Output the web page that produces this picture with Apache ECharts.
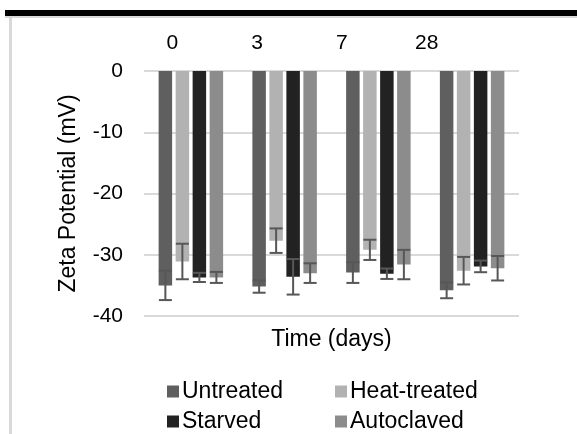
<!DOCTYPE html>
<html>
<head>
<meta charset="utf-8">
<script src="https://cdn.jsdelivr.net/npm/echarts@6/dist/echarts.min.js"></script>
<style>
html,body{margin:0;padding:0;background:#fff;}
#c{width:577px;height:434px;}
</style>
</head>
<body>
<div id="c"></div>
<script>
var categories = ['0', '3', '7', '28'];
var yTicks = [0, -10, -20, -30, -40];
var seriesNames = ['Untreated', 'Heat-treated', 'Starved', 'Autoclaved'];
var untreated = [-35.0, -35.2, -32.9, -35.8];
var untreatedErr = [2.4, 1.0, 1.7, 1.3];
var heatTreated = [-31.1, -27.7, -29.2, -32.6];
var heatTreatedErr = [2.9, 2.0, 1.65, 2.25];
var starved = [-33.7, -33.6, -33.1, -31.9];
var starvedErr = [0.75, 2.9, 0.85, 0.95];
var autoclaved = [-33.7, -33.0, -31.6, -32.2];
var autoclavedErr = [0.9, 1.6, 2.4, 2.0];

var values = [untreated, heatTreated, starved, autoclaved];
var errors = [untreatedErr, heatTreatedErr, starvedErr, autoclavedErr];
var colors = ['#5f5f5f', '#b2b2b2', '#222222', '#8c8c8c'];
var BAR_W = 13.5, BAR_GAP = 3.5;
var FONT = 'Liberation Sans, Arial, sans-serif';

var chart = echarts.init(document.getElementById('c'), null, {renderer: 'canvas'});

var series = [];
seriesNames.forEach(function (name, i) {
  series.push({
    name: name, type: 'bar', data: values[i],
    barWidth: BAR_W, barGap: (BAR_GAP / BAR_W * 100) + '%',
    itemStyle: {color: colors[i]}, xAxisIndex: 0, yAxisIndex: 0, z: 2
  });
});
seriesNames.forEach(function (name, i) {
  var data = values[i].map(function (v, k) { return [k, v - errors[i][k], v + errors[i][k]]; });
  var offset = -(4 * BAR_W + 3 * BAR_GAP) / 2 + BAR_W / 2 + i * (BAR_W + BAR_GAP);
  series.push({
    name: name + ' err', type: 'custom', xAxisIndex: 0, yAxisIndex: 0, z: 5,
    data: data,
    renderItem: function (params, api) {
      var lo = api.coord([api.value(0), api.value(1)]);
      var hi = api.coord([api.value(0), api.value(2)]);
      var x = lo[0] + offset;
      var hw = 6.5;
      var st = {stroke: '#575757', lineWidth: 2};
      return {type: 'group', children: [
        {type: 'line', shape: {x1: x, y1: lo[1], x2: x, y2: hi[1]}, style: st},
        {type: 'line', shape: {x1: x - hw, y1: lo[1], x2: x + hw, y2: lo[1]}, style: st},
        {type: 'line', shape: {x1: x - hw, y1: hi[1], x2: x + hw, y2: hi[1]}, style: st}
      ]};
    }
  });
});

function legendAt(name, left, top) {
  return {
    data: [name], left: left, top: top, padding: 0, orient: 'horizontal',
    icon: 'rect', itemWidth: 12, itemHeight: 12, itemGap: 0,
    textStyle: {fontFamily: FONT, fontSize: 23, color: '#000', padding: [0, 0, 0, -2]},
    selectedMode: false
  };
}

var option = {
  animation: false,
  backgroundColor: '#ffffff',
  textStyle: {fontFamily: FONT},
  graphic: [
    {type: 'rect', shape: {x: 5, y: 10, width: 572, height: 6}, style: {fill: '#000'}},
    {type: 'rect', shape: {x: 5, y: 16, width: 572, height: 2}, style: {fill: '#d9d9d9'}},
    {type: 'rect', shape: {x: 9, y: 16, width: 3, height: 418}, style: {fill: '#d9d9d9'}}
  ],
  grid: [
    {left: 144, right: 58, top: 71, bottom: 118},
    {left: 130, width: 339, top: 71, height: 10}
  ],
  xAxis: [
    {
      type: 'category', gridIndex: 0, data: categories, position: 'bottom',
      axisLine: {show: false}, axisTick: {show: false}, axisLabel: {show: false},
      name: 'Time (days)', nameLocation: 'middle', nameGap: 12,
      nameTextStyle: {fontFamily: FONT, fontSize: 23, color: '#000'}
    },
    {
      type: 'category', gridIndex: 1, data: categories, position: 'top',
      axisLine: {show: false}, axisTick: {show: false},
      axisLabel: {margin: 17, fontFamily: FONT, fontSize: 21, color: '#000'}
    }
  ],
  yAxis: [
    {
      type: 'value', gridIndex: 0, min: -40, max: 0, interval: 10,
      axisLine: {show: false}, axisTick: {show: false},
      axisLabel: {margin: 21, fontFamily: FONT, fontSize: 21, color: '#000',
        formatter: function (v) { return yTicks.indexOf(v) >= 0 ? String(v) : ''; }},
      splitLine: {lineStyle: {color: '#d9d9d9', width: 2}},
      name: 'Zeta Potential (mV)', nameLocation: 'middle', nameGap: 64, nameRotate: 90,
      nameTextStyle: {fontFamily: FONT, fontSize: 23, color: '#000'}
    },
    {type: 'value', gridIndex: 1, show: false}
  ],
  legend: [
    legendAt('Untreated', 167, 380),
    legendAt('Heat-treated', 335, 380),
    legendAt('Starved', 167, 410),
    legendAt('Autoclaved', 335, 410)
  ],
  series: series
};
chart.setOption(option);
</script>
</body>
</html>
